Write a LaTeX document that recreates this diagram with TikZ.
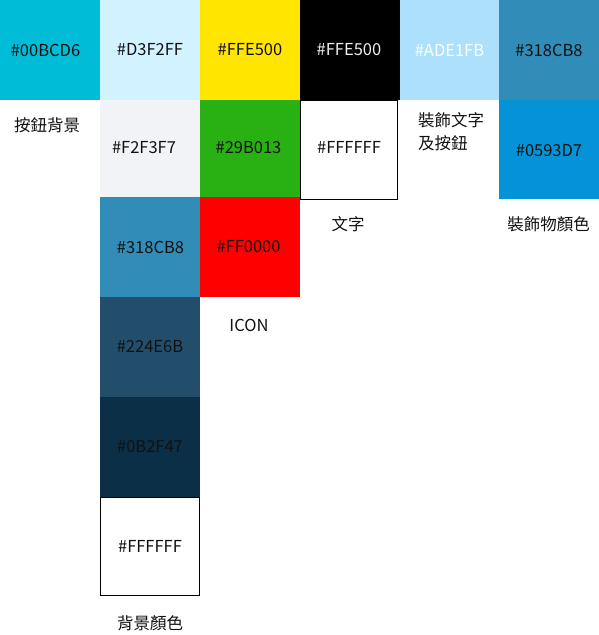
\documentclass[tikz,border=0pt]{standalone}
\usepackage{fontspec}
\setmainfont{Noto Sans CJK TC}
\definecolor{c00BCD6}{HTML}{00BCD6}
\definecolor{cD3F2FF}{HTML}{D3F2FF}
\definecolor{cFFE500}{HTML}{FFE500}
\definecolor{cADE1FB}{HTML}{ADE1FB}
\definecolor{c318CB8}{HTML}{318CB8}
\definecolor{cF2F3F7}{HTML}{F2F3F7}
\definecolor{c29B013}{HTML}{29B013}
\definecolor{c0593D7}{HTML}{0593D7}
\definecolor{cFF0000}{HTML}{FF0000}
\definecolor{c224E6B}{HTML}{224E6B}
\definecolor{c0B2F47}{HTML}{0B2F47}
\definecolor{txt}{HTML}{111111}
\begin{document}
\begin{tikzpicture}[x=1pt,y=-1pt,
  swatch/.style={anchor=north west,inner sep=0pt,outer sep=0pt,text=txt,
    font=\fontsize{16.5}{19}\selectfont},
  lbl/.style={inner sep=0pt,text=txt,font=\fontsize{16.5}{23.5}\selectfont},
  wbox/.style={draw=black,line width=1pt}]
\useasboundingbox (0,0) rectangle (599,635);
% column 1
\fill[c00BCD6] (0,0) rectangle (100,100);
\node[swatch] (s1) at (0,0) [minimum width=91pt,minimum height=100pt] {\#00BCD6};
\node[lbl,anchor=west] (l1) at (14,125) {按鈕背景};
% column 2
\fill[cD3F2FF] (100,0) rectangle (200,100);
\node[swatch,minimum width=100pt,minimum height=100pt] (s2) at (100,0) {\#D3F2FF};
\fill[cF2F3F7] (100,100) rectangle (200,197);
\node[swatch,minimum width=88pt,minimum height=95pt] (s3) at (100,100) {\#F2F3F7};
\fill[c318CB8] (100,197) rectangle (200,297);
\node[swatch,minimum width=101pt,minimum height=100pt] (s4) at (100,197) {\#318CB8};
\fill[c224E6B] (100,297) rectangle (200,397);
\node[swatch,minimum width=100pt,minimum height=100pt] (s5) at (100,297) {\#224E6B};
\fill[c0B2F47] (100,397) rectangle (200,497);
\node[swatch,minimum width=100pt,minimum height=100pt] (s6) at (100,397) {\#0B2F47};
\draw[wbox] (100.5,497.5) rectangle (199.5,595.5);
\node[swatch,minimum width=100pt,minimum height=98pt] (s7) at (100,497) {\#FFFFFF};
\node[lbl] (l2) at (150,623) {背景顏色};
% column 3
\fill[cFFE500] (200,0) rectangle (300,100);
\node[swatch,minimum width=100pt,minimum height=100pt] (s8) at (200,0) {\#FFE500};
\fill[c29B013] (200,100) rectangle (300,197);
\node[swatch,minimum width=97pt,minimum height=95pt] (s9) at (200,100) {\#29B013};
\fill[cFF0000] (200,197) rectangle (300,297);
\node[swatch,minimum width=97pt,minimum height=100pt] (s10) at (200,197) {\#FF0000};
\node[lbl] (l3) at (249,325) {ICON};
% column 4
\fill[black] (300,0) rectangle (400,100);
\node[swatch,text=white!93!black,minimum width=98pt,minimum height=100pt] (s11) at (300,0) {\#FFE500};
\draw[wbox] (300.5,100) rectangle (397.5,199);
\node[swatch,minimum width=98pt,minimum height=95pt] (s12) at (300,100) {\#FFFFFF};
\node[lbl] (l4) at (348,224.5) {文字};
% column 5
\fill[cADE1FB] (400,0) rectangle (499,100);
\node[swatch,text=white,minimum width=99pt,minimum height=100pt] (s13) at (400,0) {\#ADE1FB};
\node[lbl,anchor=north west,align=left] (l5) at (418,112) {裝飾文字\\及按鈕};
% column 6
\fill[c318CB8] (499,0) rectangle (599,100);
\node[swatch,minimum width=100pt,minimum height=100pt] (s14) at (499,0) {\#318CB8};
\fill[c0593D7] (499,100) rectangle (599,199);
\node[swatch,minimum width=100pt,minimum height=101pt] (s15) at (499,100) {\#0593D7};
\node[lbl] (l6) at (548.5,224.5) {裝飾物顏色};
\end{tikzpicture}
\end{document}
